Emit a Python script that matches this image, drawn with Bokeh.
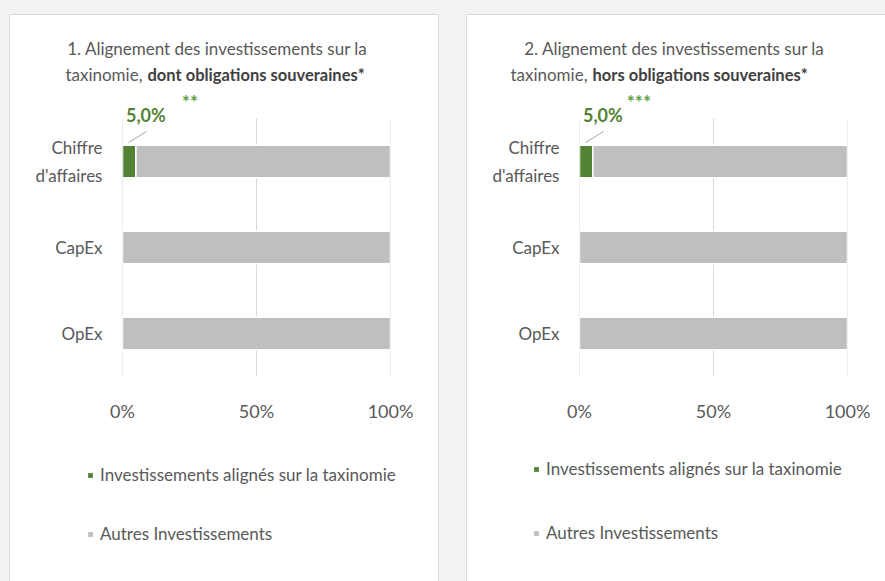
from bokeh.plotting import figure
from bokeh.models import (ColumnDataSource, Range1d, FixedTicker,
                          Label, LabelSet, Legend, LegendItem)
from bokeh.layouts import row, column
from bokeh.embed import file_html
from bokeh.resources import INLINE
from bokeh.core.properties import value

# ---------------- data ----------------
categories = ["Chiffre\nd'affaires", "CapEx", "OpEx"]
aligned_1 = [5.0, 0.0, 0.0]
other_1 = [95.0, 100.0, 100.0]
aligned_2 = [5.0, 0.0, 0.0]
other_2 = [95.0, 100.0, 100.0]
tick_values = [0, 50, 100]
tick_labels = ["0%", "50%", "100%"]
series_names = ["Investissements alignés sur la taxinomie", "Autres Investissements"]
title_line1 = ["1. Alignement des investissements sur la",
               "2. Alignement des investissements sur la"]
title_line2_regular = ["taxinomie,", "taxinomie,"]
title_line2_bold = ["dont obligations souveraines*", "hors obligations souveraines*"]
note_marks = ["**", "***"]

GREEN = "#548235"
STAR_GREEN = "#62a03f"
GREY = "#bfbfbf"
TEXT = "#595959"
FONT = "Lato"

N = len(categories)
ypos = [N - 1 - k for k in range(N)]      # first category on top
PX_PER_CAT = 86


def fmt(v):
    return ("%.1f" % v).replace(".", ",") + "%"


def blank_fig(w, h):
    f = figure(width=w, height=h, x_range=Range1d(0, w), y_range=Range1d(0, h),
               output_backend="svg", toolbar_location=None, title=None,
               x_axis_location=None, y_axis_location=None,
               min_border=0, min_border_left=0, min_border_right=0,
               min_border_top=0, min_border_bottom=0,
               background_fill_color="white", border_fill_color="white",
               outline_line_color=None, frame_align=False)
    f.xgrid.visible = False
    f.ygrid.visible = False
    return f


def make_panel(i, aligned, other, width, mb_right, split_x, star_dx,
               leg_x, leg_bottom, leg_spacing, leg_standoff, margin):
    # ---- title ----
    t = blank_fig(width, 73)
    t.add_layout(Label(x=207, y=40, x_units="screen", y_units="screen",
                       text=title_line1[i], text_align="center", text_baseline="middle",
                       text_font=FONT, text_font_size="17px", text_color=TEXT))
    t.add_layout(Label(x=split_x, y=14, x_units="screen", y_units="screen",
                       text=title_line2_regular[i], text_align="right",
                       text_baseline="middle",
                       text_font=FONT, text_font_size="17px", text_color=TEXT))
    t.add_layout(Label(x=split_x + 5, y=14, x_units="screen", y_units="screen",
                       text=title_line2_bold[i], text_align="left",
                       text_baseline="middle", text_font_style="bold",
                       text_font=FONT, text_font_size="16.5px", text_color="#404040"))

    # ---- chart ----
    y_end = (N - 0.5) + 26 / PX_PER_CAT
    p = figure(width=width, height=342, title=None,
               y_range=Range1d(-0.5, y_end), x_range=Range1d(0, 100),
               output_backend="svg", toolbar_location=None,
               min_border_left=112, min_border_right=mb_right,
               min_border_top=4, min_border_bottom=54,
               background_fill_color="white", border_fill_color="white",
               outline_line_color=None, frame_align=False)
    p.xgrid.visible = False
    p.ygrid.visible = False

    # vertical grid lines limited to the bar area
    p.segment(x0=tick_values, x1=tick_values, y0=[-0.5] * len(tick_values),
              y1=[N - 0.5] * len(tick_values), line_color="#d9d9d9", line_width=1)

    src = ColumnDataSource(dict(y=ypos, aligned=aligned, other=other))
    p.hbar_stack(["aligned", "other"], y="y", height=0.38, source=src,
                 fill_color=[GREEN, GREY], line_color="white", line_width=1.5)

    p.xaxis.ticker = FixedTicker(ticks=tick_values)
    p.xaxis.major_label_overrides = {v: l for v, l in zip(tick_values, tick_labels)}
    p.yaxis.ticker = FixedTicker(ticks=ypos)
    p.yaxis.major_label_overrides = {y: c for y, c in zip(ypos, categories)}
    for ax in (p.xaxis, p.yaxis):
        ax.axis_line_color = None
        ax.major_tick_line_color = None
        ax.minor_tick_line_color = None
        ax.major_tick_out = 0
        ax.major_tick_in = 0
        ax.minor_tick_out = 0
        ax.major_label_text_color = TEXT
        ax.major_label_text_font = FONT
    p.xaxis.major_label_text_font_size = "18px"
    p.xaxis.major_label_standoff = 23
    p.yaxis.major_label_text_font_size = "17px"
    p.yaxis.major_label_standoff = 20
    p.yaxis.major_label_text_line_height = 1.36

    idx = [k for k, a in enumerate(aligned) if a > 0]
    lsrc = ColumnDataSource(dict(
        x=[aligned[k] for k in idx],
        y=[ypos[k] for k in idx],
        text=[fmt(aligned[k]) for k in idx],
        note=[note_marks[i] for k in idx],
        x0=[aligned[k] * 0.45 for k in idx],
        x1=[aligned[k] * 1.8 for k in idx],
        y0=[ypos[k] + 0.22 for k in idx],
        y1=[ypos[k] + 0.35 for k in idx],
    ))
    p.segment(x0="x0", y0="y0", x1="x1", y1="y1", source=lsrc,
              line_color="#a6a6a6", line_width=1)
    p.add_layout(LabelSet(x="x", y="y", text="text", source=lsrc,
                          x_offset=10, y_offset=47, text_align="center",
                          text_baseline="middle", text_font=value(FONT),
                          text_font_style="bold", text_font_size="18px",
                          text_color=GREEN))
    p.add_layout(LabelSet(x="x", y="y", text="note", source=lsrc,
                          x_offset=10 + star_dx, y_offset=60, text_align="center",
                          text_baseline="middle", text_font=value(FONT),
                          text_font_style="bold", text_font_size="19px",
                          text_color=STAR_GREEN))

    # ---- legend (its renderers share the chart data, kept hidden) ----
    lg = blank_fig(width, 151)
    r_al = lg.hbar(y="y", right="aligned", height=0.38, source=src,
                   fill_color=GREEN, line_color=None, visible=False)
    r_ot = lg.hbar(y="y", right="other", height=0.38, source=src,
                   fill_color=GREY, line_color=None, visible=False)
    legend = Legend(items=[LegendItem(label=series_names[0], renderers=[r_al], index=0),
                           LegendItem(label=series_names[1], renderers=[r_ot], index=0)],
                    location=(leg_x, leg_bottom), orientation="vertical",
                    glyph_width=6, glyph_height=6, label_standoff=leg_standoff,
                    spacing=leg_spacing, padding=0, margin=0,
                    border_line_color=None, background_fill_alpha=0,
                    inactive_fill_alpha=0,
                    label_text_font=FONT, label_text_font_size="17px",
                    label_text_color=TEXT, label_height=20)
    lg.add_layout(legend)

    return column(t, p, lg, margin=margin,
                  styles={"outline": "1px solid #d9d9d9", "background-color": "white"})


c1 = make_panel(0, aligned_1, other_1, 428, 48, 132, 44, 77, 37, 38, 7, (15, 0, 0, 10))
c2 = make_panel(1, aligned_2, other_2, 418, 38, 120, 36, 66, 38, 43, 7, (15, 0, 0, 29))

layout = row(c1, c2)
html = file_html(layout, INLINE)
html = html.replace("</head>", "<style>html, body { background-color: #f2f2f2; }</style>\n</head>", 1)
open("out.html", "w").write(html)
